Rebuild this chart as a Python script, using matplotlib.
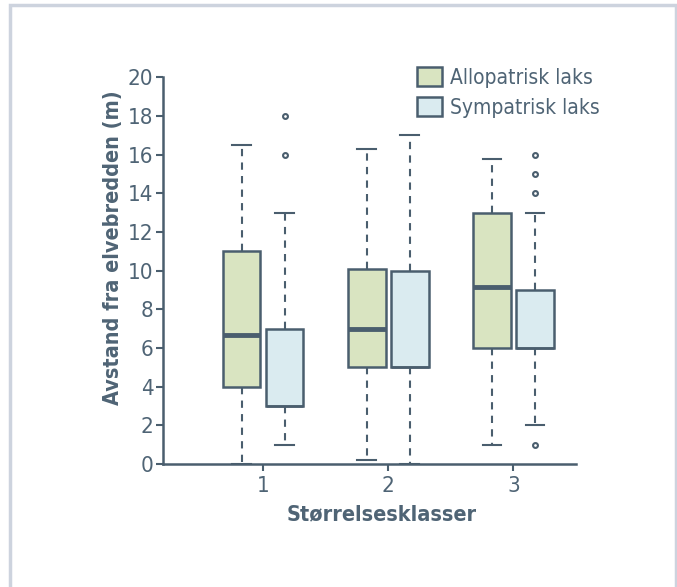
import matplotlib.pyplot as plt
from matplotlib.patches import Rectangle, Patch

# størrelsesklasser og boksplott-statistikk per gruppe
klasser = [1, 2, 3]
serier = ['Allopatrisk laks', 'Sympatrisk laks']

allo_lav = [0.0, 0.2, 1.0]
allo_q1 = [4.0, 5.0, 6.0]
allo_median = [6.7, 7.0, 9.15]
allo_q3 = [11.0, 10.1, 13.0]
allo_hoy = [16.5, 16.3, 15.8]
allo_avvik = [[], [], []]

sym_lav = [1.0, 0.0, 2.0]
sym_q1 = [3.0, 5.0, 6.0]
sym_median = [3.0, 5.0, 6.0]
sym_q3 = [7.0, 10.0, 9.0]
sym_hoy = [13.0, 17.0, 13.0]
sym_avvik = [[16, 18], [], [1, 14, 15, 16]]

mork = '#4a5e6e'
tekst = '#4f6475'
farge_allo = '#d9e4c1'
farge_sym = '#daebf0'

plt.rcParams['font.family'] = ['DejaVu Sans']
plt.rcParams['font.stretch'] = 'condensed'


def lag_stats(lav, q1, med, q3, hoy, avvik):
    return [dict(whislo=lav[i], q1=q1[i], med=med[i], q3=q3[i],
                 whishi=hoy[i], fliers=avvik[i]) for i in range(len(lav))]


fig = plt.figure(figsize=(6.77, 5.87), dpi=100)
# lys ramme rundt hele figuren
fig.patches.append(Rectangle((9.5 / 677, -0.01), (676 - 9.5) / 677, 1 - 4.5 / 587 + 0.01,
                             transform=fig.transFigure, fill=False,
                             edgecolor='#cdd3de', linewidth=2.5))
ax = fig.add_axes([163 / 677, 1 - 464 / 587, (576 - 163) / 677, (464 - 77.5) / 587])

forskyv = 0.172
bredde = 0.3
felles = dict(widths=bredde, patch_artist=True, manage_ticks=False,
              showfliers=True, capwidths=0.15,
              whiskerprops=dict(color=mork, linewidth=1.5, linestyle=(0, (3.5, 3))),
              capprops=dict(color=mork, linewidth=1.5),
              flierprops=dict(marker='o', markersize=3.5, markerfacecolor='white',
                              markeredgecolor=mork, markeredgewidth=1.5))

ax.bxp(lag_stats(allo_lav, allo_q1, allo_median, allo_q3, allo_hoy, allo_avvik),
       positions=[k - forskyv for k in klasser],
       boxprops=dict(facecolor=farge_allo, edgecolor=mork, linewidth=1.8),
       medianprops=dict(color=mork, linewidth=3.5), **felles)
ax.bxp(lag_stats(sym_lav, sym_q1, sym_median, sym_q3, sym_hoy, sym_avvik),
       positions=[k + forskyv for k in klasser],
       boxprops=dict(facecolor=farge_sym, edgecolor=mork, linewidth=1.8),
       medianprops=dict(color=mork, linewidth=1.8), **felles)

ax.set_xlim(0.2, 3.5)
ax.set_ylim(0, 20)
ax.set_xticks(klasser)
ax.set_xticklabels([str(k) for k in klasser])
ax.set_yticks(range(0, 21, 2))

for s in ['top', 'right']:
    ax.spines[s].set_visible(False)
for s in ['left', 'bottom']:
    ax.spines[s].set_color(mork)
    ax.spines[s].set_linewidth(1.8)
ax.tick_params(colors=mork, labelcolor=tekst, labelsize=16, width=1.5, length=5)
ax.tick_params(axis='y', pad=2)
ax.tick_params(axis='x', pad=4)

ax.set_xlabel('Størrelsesklasser', fontsize=15.5, fontweight='bold', color=tekst)
ax.set_ylabel('Avstand fra elvebredden (m)', fontsize=15.5, fontweight='bold', color=tekst)
ax.xaxis.set_label_coords(0.53, -0.129)
ax.xaxis.label.set_va('center')
ax.yaxis.set_label_coords(-0.121, 0.559)
ax.yaxis.label.set_va('center')

handles = [Patch(facecolor=farge_allo, edgecolor=mork, linewidth=1.8),
           Patch(facecolor=farge_sym, edgecolor=mork, linewidth=1.8)]
leg = ax.legend(handles, serier, loc='upper left', bbox_to_anchor=(0.595, 1.048),
                frameon=False, fontsize=15, handlelength=1.2, handleheight=1.0,
                handletextpad=0.4, labelspacing=0.45, borderaxespad=0)
for t in leg.get_texts():
    t.set_color(tekst)

fig.savefig('out.png', dpi=100)
